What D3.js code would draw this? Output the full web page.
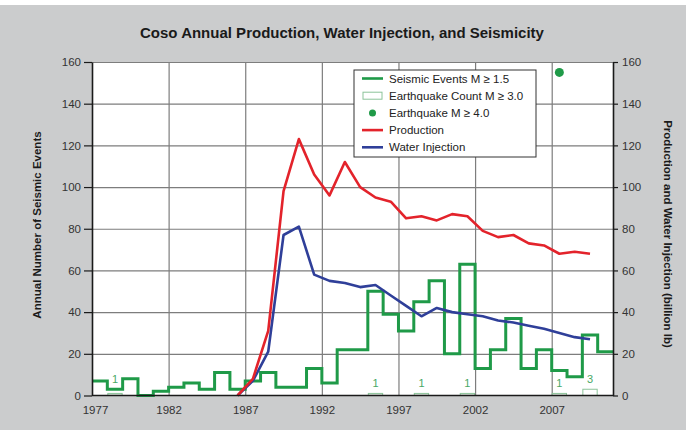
<!DOCTYPE html>
<html>
<head>
<meta charset="utf-8">
<style>
body { margin: 0; background: #fff; }
text { font-family: "Liberation Sans", Arial, sans-serif; }
</style>
</head>
<body>
<svg id="chart" width="691" height="434"></svg>
<script src="https://d3js.org/d3.v7.min.js"></script>
<script>

// seismic events M >= 1.5, one value per year (step line)
const seismicYears = [1977,1978,1979,1980,1981,1982,1983,1984,1985,1986,1987,1988,1989,1990,1991,1992,1993,
    1994,1995,1996,1997,1998,1999,2000,2001,2002,2003,2004,2005,2006,2007,2008,2009,2010];
const seismicCounts = [7,3,8,0,2,4,6,3,11,3,7,11,4,4,13,6,22,22,50,39,31,45,55,20,63,13,22,37,13,22,12,9,29,21];

// earthquake count M >= 3.0
const quakeYears = [1978,1995,1998,2001,2007,2009];
const quakeCounts = [1,1,1,1,1,3];

// earthquake M >= 4.0
const bigQuakeYears = [2007];
const bigQuakeValues = [155];

// production and water injection (billion lb), plotted mid-year
const prodYears = [1986,1987,1988,1989,1990,1991,1992,1993,1994,1995,1996,1997,1998,1999,2000,2001,2002,
    2003,2004,2005,2006,2007,2008,2009];
const production = [0,8,31,98,123,106,96,112,100,95,93,85,86,84,87,86,79,76,77,73,72,68,69,68];
const injection = [0,7,21,77,81,58,55,54,52,53,48,43,38,42,40,39,38,36,35,33.5,32,30,28,27];

const yTicks = [0,20,40,60,80,100,120,140,160];
const xTicks = [1977,1982,1987,1992,1997,2002,2007];

const green = "#1f9a48", red = "#e3232b", blue = "#2f3f99", lightGreen = "#8cc49a";

let svg = d3.select("#chart");
let margin = {top: 62, right: 78, bottom: 38.5, left: 92};
let width = 691 - margin.left - margin.right,
    height = 434 - margin.top - margin.bottom;

// grey page
svg.append("rect").attr("x", 0).attr("y", 5).attr("width", 686).attr("height", 425).attr("fill", "#cbcccd");

svg.append("text")
    .attr("x", 342).attr("y", 38)
    .attr("text-anchor", "middle")
    .style("font-size", "15px").style("font-weight", "bold").attr("fill", "#1a1a1a")
    .text("Coso Annual Production, Water Injection, and Seismicity");

let chart = svg.append("g").attr("transform", "translate(" + margin.left + "," + margin.top + ")");

let x = d3.scaleLinear().domain([1977, 2011]).range([0, width]);
let y = d3.scaleLinear().domain([0, 160]).range([height, 0]);
let y2 = d3.scaleLinear().domain([0, 160]).range([height, 0]);

chart.append("rect").attr("width", width).attr("height", height).attr("fill", "#fff");

// grid
chart.append("g")
    .attr("transform", "translate(0," + height + ")")
    .call(d3.axisBottom(x).tickValues(xTicks.slice(1)).tickSize(-height).tickFormat(""))
    .call(g => g.select(".domain").remove())
    .selectAll("line").attr("stroke", "#7d7d7d").attr("stroke-width", 1.2);
chart.append("g")
    .call(d3.axisLeft(y).tickValues(yTicks.slice(1)).tickSize(-width).tickFormat(""))
    .call(g => g.select(".domain").remove())
    .selectAll("line").attr("stroke", "#7d7d7d").attr("stroke-width", 1.2);

// earthquake count bars
chart.selectAll(".qbar")
    .data(quakeYears)
    .join("rect")
    .attr("class", "qbar")
    .attr("x", d => x(d) + 0.5)
    .attr("y", (d, i) => y(quakeCounts[i]))
    .attr("width", d => x(d + 1) - x(d) - 1)
    .attr("height", (d, i) => height - y(quakeCounts[i]))
    .attr("fill", (d, i) => quakeCounts[i] > 1 ? "#fff" : "#dbe9dc")
    .attr("stroke", lightGreen).attr("stroke-width", 1);
// label sits over the bar, or over the step line when that one is too low
chart.selectAll(".qlabel")
    .data(quakeYears)
    .join("text")
    .attr("class", "qlabel")
    .attr("x", d => x(d + 0.5))
    .attr("y", (d, i) => {
        let s = seismicCounts[seismicYears.indexOf(d)];
        return s < quakeCounts[i] + 6 ? y(s) - 6 : y(quakeCounts[i]) - 6;
    })
    .attr("text-anchor", "middle")
    .style("font-size", "11px").attr("fill", "#4aa865")
    .text((d, i) => quakeCounts[i]);

// seismic step line
let stepData = seismicYears.map((d, i) => [d, seismicCounts[i]]);
stepData.push([x.domain()[1], seismicCounts[seismicCounts.length - 1]]);
chart.append("path")
    .datum(stepData)
    .attr("fill", "none").attr("stroke", green).attr("stroke-width", 3)
    .attr("d", d3.line().x(d => x(d[0])).y(d => y(d[1])).curve(d3.curveStepAfter));

// production and injection
let line2 = d3.line().x(d => x(d[0] + 0.5)).y(d => y2(d[1]));
chart.append("path")
    .datum(prodYears.map((d, i) => [d, injection[i]]))
    .attr("fill", "none").attr("stroke", blue).attr("stroke-width", 2.6)
    .attr("stroke-linejoin", "round").attr("d", line2);
chart.append("path")
    .datum(prodYears.map((d, i) => [d, production[i]]))
    .attr("fill", "none").attr("stroke", red).attr("stroke-width", 2.6)
    .attr("stroke-linejoin", "round").attr("d", line2);

// big quakes
chart.selectAll(".bigq")
    .data(bigQuakeYears)
    .join("circle")
    .attr("cx", d => x(d + 0.5))
    .attr("cy", (d, i) => y(bigQuakeValues[i]))
    .attr("r", 4.5).attr("fill", green);

// axes
let axL = chart.append("g")
    .call(d3.axisLeft(y).tickValues(yTicks).tickSize(8).tickSizeOuter(0).tickPadding(3));
let axR = chart.append("g")
    .attr("transform", "translate(" + width + ",0)")
    .call(d3.axisRight(y2).tickValues(yTicks).tickSize(5).tickSizeOuter(0).tickPadding(4));
let axB = chart.append("g")
    .attr("transform", "translate(0," + height + ")")
    .call(d3.axisBottom(x).tickValues(xTicks).tickFormat(d3.format("d")).tickSize(0).tickPadding(10));
[axL, axR, axB].forEach(a => {
    a.select(".domain").attr("stroke", "#1a1a1a").attr("stroke-width", 1.6);
    a.selectAll("line").attr("stroke", "#1a1a1a").attr("stroke-width", 1.2);
    a.selectAll("text").style("font-size", "11.5px").attr("fill", "#333")
        .style("font-family", "'Liberation Sans', Arial, sans-serif");
});
axB.select(".domain").attr("d", "M0,0H" + width);
axB.selectAll("text").attr("dx", d => d == 1977 ? 3 : 0);

// axis titles
svg.append("text")
    .attr("transform", "translate(41,225) rotate(-90)")
    .attr("text-anchor", "middle")
    .style("font-size", "11.5px").style("font-weight", "bold").attr("fill", "#1a1a1a")
    .text("Annual Number of Seismic Events");
svg.append("text")
    .attr("transform", "translate(664,234) rotate(90)")
    .attr("text-anchor", "middle")
    .style("font-size", "11.5px").style("font-weight", "bold").attr("fill", "#1a1a1a")
    .text("Production and Water Injection (billion lb)");

// legend
let legend = svg.append("g").attr("transform", "translate(354,70)");
legend.append("rect").attr("width", 182).attr("height", 87)
    .attr("fill", "#fff").attr("stroke", "#333").attr("stroke-width", 1);
const legendItems = [
    {label: "Seismic Events M \u2265 1.5", type: "line", color: green},
    {label: "Earthquake Count M \u2265 3.0", type: "box", color: lightGreen},
    {label: "Earthquake M \u2265 4.0", type: "dot", color: green},
    {label: "Production", type: "line", color: red},
    {label: "Water Injection", type: "line", color: blue}
];
let li = legend.selectAll(".li")
    .data(legendItems)
    .join("g")
    .attr("transform", (d, i) => "translate(0," + (8.5 + i * 17.2) + ")");
li.filter(d => d.type == "line").append("line")
    .attr("x1", 8).attr("x2", 29).attr("stroke", d => d.color).attr("stroke-width", 2.6);
li.filter(d => d.type == "box").append("rect")
    .attr("x", 9).attr("y", -3.5).attr("width", 19).attr("height", 7)
    .attr("fill", "#fff").attr("stroke", d => d.color);
li.filter(d => d.type == "dot").append("circle")
    .attr("cx", 18.5).attr("r", 3.5).attr("fill", d => d.color);
li.append("text")
    .attr("x", 35).attr("dy", "0.36em")
    .style("font-size", "11.5px").attr("fill", "#222")
    .text(d => d.label);

</script>
</body>
</html>
